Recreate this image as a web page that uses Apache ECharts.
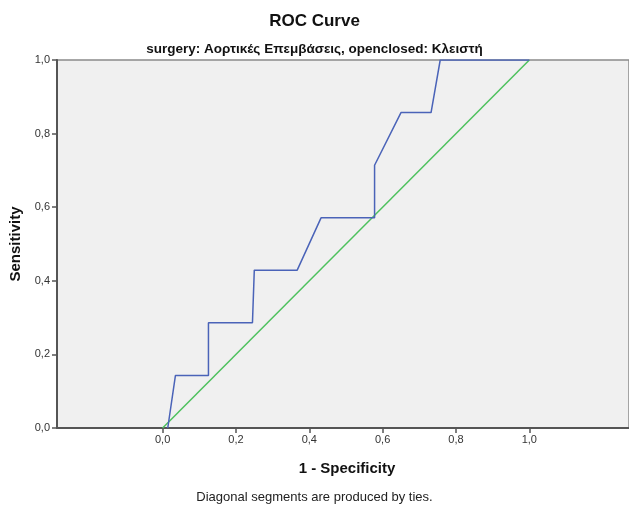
<!DOCTYPE html>
<html>
<head>
<meta charset="utf-8">
<script src="https://cdn.jsdelivr.net/npm/echarts@6/dist/echarts.min.js"></script>
<style>
  html, body { margin: 0; padding: 0; background: #ffffff; }
  #chart { width: 629px; height: 508px; }
</style>
</head>
<body>
<div id="chart"></div>
<script>
// ROC curve points (1 - specificity, sensitivity)
const rocSpecificity = [0.014, 0.035, 0.125, 0.125, 0.245, 0.25, 0.367, 0.432, 0.578, 0.578, 0.650, 0.732, 0.757, 1.0];
const rocSensitivity = [0.0, 0.143, 0.143, 0.286, 0.286, 0.429, 0.429, 0.571, 0.571, 0.714, 0.857, 0.857, 1.0, 1.0];
// Reference line
const refX = [0.0, 1.0];
const refY = [0.0, 1.0];
// Tick labels
const tickValues = [0.0, 0.2, 0.4, 0.6, 0.8, 1.0];

const fmt = v => v.toFixed(1).replace('.', ',');
const font = '"Liberation Sans", Arial, sans-serif';

const chart = echarts.init(document.getElementById('chart'), null, { renderer: 'canvas' });

chart.setOption({
  animation: false,
  backgroundColor: '#ffffff',
  textStyle: { fontFamily: font },
  title: [
    {
      text: 'ROC Curve',
      left: 'center',
      top: 8,
      textStyle: { fontFamily: font, fontSize: 17, fontWeight: 'bold', color: '#111' }
    },
    {
      text: 'surgery: Αορτικές Επεμβάσεις, openclosed: Κλειστή',
      left: 'center',
      top: 37,
      textStyle: { fontFamily: font, fontSize: 13.5, fontWeight: 'bold', color: '#111' }
    }
  ],
  grid: {
    left: 57, top: 60, width: 574, height: 368,
    show: true,
    backgroundColor: '#f0f0f0',
    borderColor: '#8a8a8a',
    borderWidth: 1.5
  },
  xAxis: {
    type: 'value',
    min: -0.288,
    max: -0.288 + 574 / 368,
    name: '1 - Specificity',
    nameLocation: 'middle',
    nameGap: 33,
    nameTextStyle: { fontFamily: font, fontSize: 15, fontWeight: 'bold', color: '#111', padding: [0, 0, 0, 8] },
    splitLine: { show: false },
    axisLine: { show: true, onZero: false, lineStyle: { color: '#555', width: 2 } },
    axisTick: { show: true, length: 5, customValues: tickValues, lineStyle: { color: '#555', width: 1.5 } },
    axisLabel: { customValues: tickValues, formatter: fmt, fontFamily: font, fontSize: 11, color: '#333', margin: 6 }
  },
  yAxis: {
    type: 'value',
    min: 0,
    max: 1,
    interval: 0.2,
    name: 'Sensitivity',
    nameLocation: 'middle',
    nameGap: 30,
    nameRotate: 90,
    nameTextStyle: { fontFamily: font, fontSize: 15, fontWeight: 'bold', color: '#111' },
    splitLine: { show: false },
    axisLine: { show: true, onZero: false, lineStyle: { color: '#555', width: 2 } },
    axisTick: { show: true, length: 5, lineStyle: { color: '#555', width: 1.5 } },
    axisLabel: { formatter: fmt, fontFamily: font, fontSize: 11, color: '#333', margin: 7 }
  },
  graphic: [
    {
      type: 'text',
      left: 'center',
      top: 491,
      style: {
        text: 'Diagonal segments are produced by ties.',
        fontFamily: font,
        fontSize: 13,
        fill: '#222'
      }
    }
  ],
  series: [
    {
      name: 'Reference Line',
      type: 'line',
      data: refX.map((x, i) => [x, refY[i]]),
      symbol: 'none',
      lineStyle: { color: '#4dc15d', width: 1.5 },
      z: 2
    },
    {
      name: 'ROC',
      type: 'line',
      data: rocSpecificity.map((x, i) => [x, rocSensitivity[i]]),
      symbol: 'none',
      lineStyle: { color: '#4a63b8', width: 1.5 },
      z: 3
    }
  ]
});
</script>
</body>
</html>
